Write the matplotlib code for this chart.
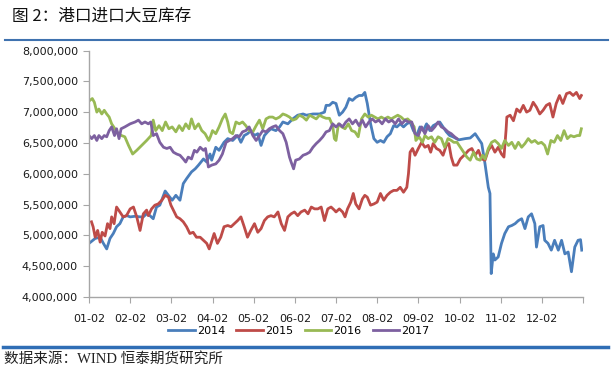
import matplotlib
matplotlib.use("Agg")
import matplotlib.pyplot as plt
from matplotlib.lines import Line2D
from matplotlib.ticker import FuncFormatter

# ---- data: (month offset from 01-02, inventory in million tonnes) ----
s2014 = [(0, 4.87), (0.15, 4.95), (0.27, 4.97), (0.35, 4.87), (0.43, 4.78), (0.51, 4.95), (0.59, 5.03),
         (0.67, 5.14), (0.75, 5.19), (0.83, 5.30), (0.92, 5.32), (1.0, 5.30), (1.12, 5.31), (1.24, 5.30),
         (1.32, 5.30), (1.40, 5.35), (1.48, 5.32), (1.56, 5.27), (1.64, 5.46), (1.72, 5.49), (1.85, 5.72),
         (1.93, 5.65), (2.02, 5.57), (2.11, 5.65), (2.21, 5.57), (2.29, 5.84), (2.37, 5.92), (2.49, 6.03),
         (2.58, 6.08), (2.66, 6.14), (2.78, 6.24), (2.86, 6.19), (2.94, 6.32), (2.98, 6.22), (3.08, 6.43),
         (3.16, 6.38), (3.28, 6.51), (3.37, 6.57), (3.49, 6.54), (3.61, 6.62), (3.69, 6.51), (3.77, 6.62),
         (3.85, 6.65), (3.93, 6.70), (4.02, 6.62), (4.10, 6.65), (4.18, 6.46), (4.26, 6.62), (4.34, 6.68),
         (4.42, 6.73), (4.54, 6.70), (4.63, 6.76), (4.71, 6.84), (4.83, 6.81), (4.95, 6.89), (5.07, 6.95),
         (5.20, 6.97), (5.28, 6.95), (5.44, 6.97), (5.60, 6.97), (5.72, 7.00), (5.76, 7.11), (5.84, 7.11),
         (5.92, 7.16), (6.00, 7.14), (6.08, 6.95), (6.16, 7.00), (6.24, 7.08), (6.32, 7.22), (6.40, 7.19),
         (6.48, 7.24), (6.56, 7.27), (6.64, 7.27), (6.70, 7.32), (6.76, 7.14), (6.84, 6.81), (6.92, 6.57),
         (7.00, 6.51), (7.08, 6.54), (7.16, 6.51), (7.24, 6.60), (7.32, 6.65), (7.40, 6.78), (7.48, 6.76),
         (7.56, 6.81), (7.64, 6.76), (7.72, 6.81), (7.80, 6.84), (7.88, 6.70), (7.96, 6.62), (8.04, 6.76),
         (8.12, 6.70), (8.20, 6.81), (8.28, 6.70), (8.36, 6.78), (8.44, 6.81), (8.52, 6.84), (8.60, 6.76),
         (8.68, 6.68), (8.76, 6.62), (8.84, 6.60), (8.98, 6.55), (9.14, 6.57), (9.26, 6.58), (9.38, 6.65),
         (9.46, 6.57), (9.54, 6.49), (9.62, 6.16), (9.70, 5.78), (9.74, 5.68), (9.77, 4.38), (9.82, 4.70),
         (9.86, 4.60), (9.94, 4.65), (10.02, 4.87), (10.10, 5.03), (10.19, 5.14), (10.27, 5.16),
         (10.35, 5.19), (10.43, 5.24), (10.51, 5.27), (10.59, 5.11), (10.67, 5.30), (10.75, 5.35),
         (10.83, 5.19), (10.87, 4.81), (10.95, 5.14), (11.03, 5.16), (11.07, 4.92), (11.15, 4.87),
         (11.23, 4.76), (11.31, 4.92), (11.40, 4.76), (11.48, 4.92), (11.56, 4.70), (11.64, 4.73),
         (11.72, 4.41), (11.80, 4.81), (11.88, 4.92), (11.94, 4.93), (11.97, 4.76)]

s2015 = [(0.06, 5.22), (0.10, 5.14), (0.15, 4.97), (0.21, 5.08), (0.27, 4.89), (0.32, 5.05), (0.39, 4.99),
         (0.45, 5.19), (0.51, 5.11), (0.55, 5.30), (0.61, 5.19), (0.67, 5.46), (0.75, 5.38), (0.83, 5.30),
         (0.91, 5.32), (1.00, 5.43), (1.08, 5.46), (1.16, 5.30), (1.24, 5.08), (1.32, 5.35), (1.40, 5.41),
         (1.44, 5.32), (1.52, 5.43), (1.60, 5.49), (1.68, 5.51), (1.77, 5.57), (1.85, 5.65), (1.93, 5.62),
         (1.99, 5.49), (2.05, 5.41), (2.13, 5.30), (2.21, 5.27), (2.29, 5.22), (2.37, 5.14), (2.45, 5.03),
         (2.53, 5.05), (2.61, 4.97), (2.70, 4.97), (2.78, 4.92), (2.86, 4.87), (2.92, 4.78), (3.00, 4.95),
         (3.04, 5.03), (3.12, 4.87), (3.20, 4.97), (3.28, 5.14), (3.37, 5.16), (3.45, 5.14), (3.53, 5.19),
         (3.61, 5.24), (3.69, 5.30), (3.77, 5.14), (3.85, 4.97), (3.93, 5.08), (4.02, 5.19), (4.10, 5.05),
         (4.18, 5.11), (4.26, 5.24), (4.34, 5.30), (4.42, 5.32), (4.50, 5.30), (4.59, 5.38), (4.67, 5.19),
         (4.75, 5.08), (4.83, 5.30), (4.91, 5.35), (4.99, 5.38), (5.07, 5.32), (5.15, 5.38), (5.24, 5.41),
         (5.32, 5.35), (5.40, 5.46), (5.48, 5.43), (5.56, 5.43), (5.64, 5.46), (5.72, 5.24), (5.80, 5.43),
         (5.88, 5.46), (5.96, 5.41), (6.00, 5.38), (6.08, 5.43), (6.16, 5.38), (6.22, 5.30), (6.28, 5.43),
         (6.36, 5.54), (6.42, 5.68), (6.48, 5.51), (6.56, 5.43), (6.64, 5.59), (6.70, 5.65), (6.76, 5.62),
         (6.84, 5.49), (6.92, 5.51), (7.00, 5.54), (7.08, 5.68), (7.16, 5.57), (7.24, 5.65), (7.32, 5.70),
         (7.40, 5.73), (7.48, 5.73), (7.56, 5.78), (7.64, 5.70), (7.72, 5.78), (7.76, 6.00), (7.80, 6.35),
         (7.86, 6.41), (7.92, 6.30), (8.00, 6.41), (8.08, 6.51), (8.16, 6.43), (8.24, 6.46), (8.30, 6.35),
         (8.36, 6.49), (8.44, 6.41), (8.52, 6.38), (8.60, 6.30), (8.68, 6.46), (8.74, 6.49), (8.80, 6.27),
         (8.86, 6.14), (8.94, 6.14), (9.02, 6.24), (9.14, 6.32), (9.22, 6.38), (9.30, 6.41), (9.38, 6.30),
         (9.46, 6.38), (9.54, 6.24), (9.62, 6.22), (9.70, 6.38), (9.78, 6.46), (9.86, 6.35), (9.94, 6.43),
         (10.02, 6.32), (10.08, 6.27), (10.13, 6.70), (10.15, 6.92), (10.23, 6.95), (10.31, 6.86),
         (10.39, 7.05), (10.47, 7.00), (10.55, 7.11), (10.63, 7.00), (10.71, 7.03), (10.79, 7.16),
         (10.87, 7.08), (10.95, 6.97), (11.03, 7.03), (11.11, 7.11), (11.19, 7.14), (11.27, 6.92),
         (11.35, 7.14), (11.43, 7.27), (11.51, 7.14), (11.60, 7.30), (11.68, 7.32), (11.76, 7.27),
         (11.84, 7.32), (11.92, 7.22), (11.96, 7.27)]

s2016 = [(0.02, 7.19), (0.08, 7.22), (0.13, 7.16), (0.19, 7.00), (0.24, 7.05), (0.31, 6.97), (0.37, 7.03),
         (0.43, 6.97), (0.49, 6.92), (0.55, 6.81), (0.63, 6.73), (0.71, 6.65), (0.79, 6.62), (0.87, 6.60),
         (0.96, 6.46), (1.06, 6.32), (1.16, 6.38), (1.28, 6.46), (1.40, 6.54), (1.51, 6.62), (1.56, 6.87),
         (1.62, 6.70), (1.70, 6.78), (1.78, 6.70), (1.86, 6.84), (1.94, 6.73), (2.02, 6.76), (2.11, 6.68),
         (2.19, 6.78), (2.27, 6.70), (2.35, 6.81), (2.43, 6.73), (2.49, 6.89), (2.57, 6.73), (2.66, 6.81),
         (2.74, 6.70), (2.82, 6.65), (2.91, 6.54), (2.96, 6.62), (3.00, 6.70), (3.08, 6.65), (3.16, 6.76),
         (3.24, 6.89), (3.31, 6.97), (3.37, 6.84), (3.42, 6.68), (3.49, 6.65), (3.57, 6.84), (3.65, 6.81),
         (3.73, 6.84), (3.81, 6.78), (3.89, 6.70), (3.98, 6.68), (4.06, 6.78), (4.14, 6.87), (4.22, 6.73),
         (4.30, 6.89), (4.38, 6.92), (4.46, 6.92), (4.54, 6.89), (4.63, 6.92), (4.71, 6.97), (4.79, 6.95),
         (4.87, 6.92), (4.95, 6.87), (5.03, 6.89), (5.11, 6.95), (5.20, 6.92), (5.28, 6.87), (5.36, 6.95),
         (5.44, 6.92), (5.52, 6.89), (5.60, 6.95), (5.68, 6.92), (5.76, 6.90), (5.84, 6.90), (5.92, 6.78),
         (5.96, 6.57), (6.00, 6.54), (6.06, 6.81), (6.14, 6.76), (6.22, 6.73), (6.30, 6.81), (6.38, 6.70),
         (6.46, 6.68), (6.54, 6.60), (6.62, 6.89), (6.70, 6.97), (6.78, 6.92), (6.86, 6.95), (6.94, 6.92),
         (7.02, 6.89), (7.10, 6.92), (7.18, 6.89), (7.26, 6.92), (7.34, 6.89), (7.42, 6.92), (7.50, 6.95),
         (7.58, 6.92), (7.66, 6.87), (7.74, 6.89), (7.82, 6.84), (7.90, 6.76), (7.94, 6.54), (8.02, 6.60),
         (8.10, 6.51), (8.16, 6.62), (8.24, 6.57), (8.32, 6.60), (8.40, 6.51), (8.48, 6.60), (8.56, 6.57),
         (8.64, 6.43), (8.72, 6.57), (8.80, 6.54), (8.86, 6.51), (8.94, 6.51), (9.02, 6.43), (9.10, 6.35),
         (9.18, 6.27), (9.26, 6.22), (9.34, 6.35), (9.42, 6.24), (9.50, 6.22), (9.56, 6.30), (9.62, 6.24),
         (9.70, 6.41), (9.78, 6.51), (9.86, 6.54), (9.94, 6.49), (10.02, 6.41), (10.10, 6.54), (10.19, 6.46),
         (10.27, 6.51), (10.35, 6.41), (10.43, 6.51), (10.51, 6.43), (10.59, 6.49), (10.67, 6.57),
         (10.75, 6.51), (10.83, 6.54), (10.91, 6.49), (10.99, 6.51), (11.07, 6.46), (11.14, 6.32),
         (11.22, 6.54), (11.30, 6.51), (11.38, 6.62), (11.46, 6.54), (11.54, 6.70), (11.62, 6.57),
         (11.70, 6.62), (11.78, 6.60), (11.86, 6.62), (11.92, 6.62), (11.96, 6.73)]

s2017 = [(0.00, 6.62), (0.065, 6.57), (0.13, 6.62), (0.19, 6.54), (0.24, 6.62), (0.31, 6.57), (0.37, 6.62),
         (0.43, 6.60), (0.49, 6.70), (0.55, 6.76), (0.62, 6.62), (0.67, 6.73), (0.73, 6.57), (0.78, 6.73),
         (0.87, 6.76), (1.00, 6.81), (1.12, 6.84), (1.20, 6.87), (1.28, 6.81), (1.36, 6.84), (1.44, 6.81),
         (1.50, 6.84), (1.56, 6.62), (1.64, 6.65), (1.72, 6.51), (1.81, 6.43), (1.89, 6.41), (1.97, 6.43),
         (2.05, 6.35), (2.13, 6.32), (2.21, 6.30), (2.29, 6.24), (2.35, 6.19), (2.41, 6.27), (2.49, 6.24),
         (2.56, 6.38), (2.62, 6.35), (2.70, 6.43), (2.78, 6.38), (2.83, 6.41), (2.90, 6.11), (2.98, 6.14),
         (3.08, 6.16), (3.16, 6.22), (3.24, 6.32), (3.33, 6.51), (3.41, 6.54), (3.49, 6.57), (3.57, 6.62),
         (3.65, 6.60), (3.73, 6.68), (3.81, 6.70), (3.89, 6.76), (3.98, 6.62), (4.06, 6.54), (4.14, 6.62),
         (4.22, 6.70), (4.30, 6.68), (4.38, 6.73), (4.46, 6.76), (4.54, 6.78), (4.63, 6.70), (4.71, 6.65),
         (4.79, 6.51), (4.87, 6.27), (4.91, 6.19), (4.97, 6.08), (5.02, 6.22), (5.11, 6.24), (5.20, 6.30),
         (5.28, 6.32), (5.36, 6.35), (5.44, 6.43), (5.52, 6.49), (5.60, 6.54), (5.68, 6.60), (5.76, 6.68),
         (5.84, 6.70), (5.92, 6.81), (6.00, 6.76), (6.08, 6.81), (6.16, 6.76), (6.24, 6.84), (6.32, 6.89),
         (6.40, 6.81), (6.48, 6.87), (6.56, 6.78), (6.64, 6.87), (6.72, 6.76), (6.80, 6.84), (6.88, 6.89),
         (6.96, 6.84), (7.04, 6.87), (7.12, 6.81), (7.20, 6.89), (7.28, 6.84), (7.36, 6.87), (7.44, 6.81),
         (7.52, 6.89), (7.60, 6.81), (7.68, 6.87), (7.76, 6.84), (7.84, 6.84), (7.92, 6.65), (8.00, 6.62),
         (8.08, 6.76), (8.16, 6.65), (8.24, 6.78), (8.32, 6.70), (8.40, 6.76), (8.48, 6.84), (8.56, 6.76),
         (8.64, 6.73), (8.72, 6.68), (8.80, 6.65), (8.88, 6.60), (8.94, 6.57)]

series_names = ["2014", "2015", "2016", "2017"]
series_data = [s2014, s2015, s2016, s2017]
series_colors = ["#4A7EBB", "#BE4B48", "#98B954", "#7D60A0"]

month_labels = ["01-02", "02-02", "03-02", "04-02", "05-02", "06-02",
                "07-02", "08-02", "09-02", "10-02", "11-02", "12-02"]
y_ticks = [4000000, 4500000, 5000000, 5500000, 6000000, 6500000, 7000000, 7500000, 8000000]

title_text = "图 2：港口进口大豆库存"
source_text = "数据来源：WIND 恒泰期货研究所"

# ---- figure ----
W, H = 614, 370
fig = plt.figure(figsize=(W / 100, H / 100), dpi=100)
fig.patch.set_facecolor("white")

ax = fig.add_axes([89 / W, (H - 297) / H, (583 - 89) / W, (297 - 50.5) / H])

for name, data, col in zip(series_names, series_data, series_colors):
    xs = [p[0] for p in data]
    ys = [p[1] * 1e6 for p in data]
    ax.plot(xs, ys, color=col, lw=2.0, label=name, solid_joinstyle="round")

ax.set_xlim(0, 12)
ax.set_ylim(4000000, 8000000)
ax.set_yticks(y_ticks)
ax.yaxis.set_major_formatter(FuncFormatter(lambda v, p: f"{int(v):,}"))
ax.set_xticks(range(13))
ax.set_xticklabels(month_labels + [""])

for side in ["top", "right"]:
    ax.spines[side].set_visible(False)
for side in ["left", "bottom"]:
    ax.spines[side].set_color("#A6A6A6")
    ax.spines[side].set_linewidth(1.0)

ax.tick_params(axis="both", direction="out", length=4, color="#A6A6A6",
               labelsize=8, labelcolor="#1A1A1A")
ax.tick_params(axis="y", pad=4)
ax.tick_params(axis="x", pad=8)

handles, labels = ax.get_legend_handles_labels()
fig.legend(handles, labels, loc="center", bbox_to_anchor=(299 / W, 1 - 331 / H),
           ncol=4, frameon=False, handlelength=2.4, handletextpad=0.2,
           columnspacing=1.0, prop={"size": 8})

# title and decorations
fig.text(12 / W, 1 - 16 / H, title_text, fontsize=12, va="center", ha="left",
         family=["Noto Sans CJK SC", "DejaVu Sans"], color="#111111")
fig.add_artist(Line2D([5 / W, 608 / W], [1 - 40 / H, 1 - 40 / H],
                      color="#3F72AF", lw=1.5, transform=fig.transFigure))
fig.add_artist(Line2D([3 / W, 608 / W], [1 - 347 / H, 1 - 347 / H],
                      color="#2F6EB5", lw=2.5, transform=fig.transFigure))
fig.text(4 / W, 1 - 359 / H, source_text, fontsize=10.5, va="center", ha="left",
         family=["Liberation Serif", "Noto Sans CJK SC"], color="#222222")

fig.savefig("out.png", dpi=100, facecolor="white")
